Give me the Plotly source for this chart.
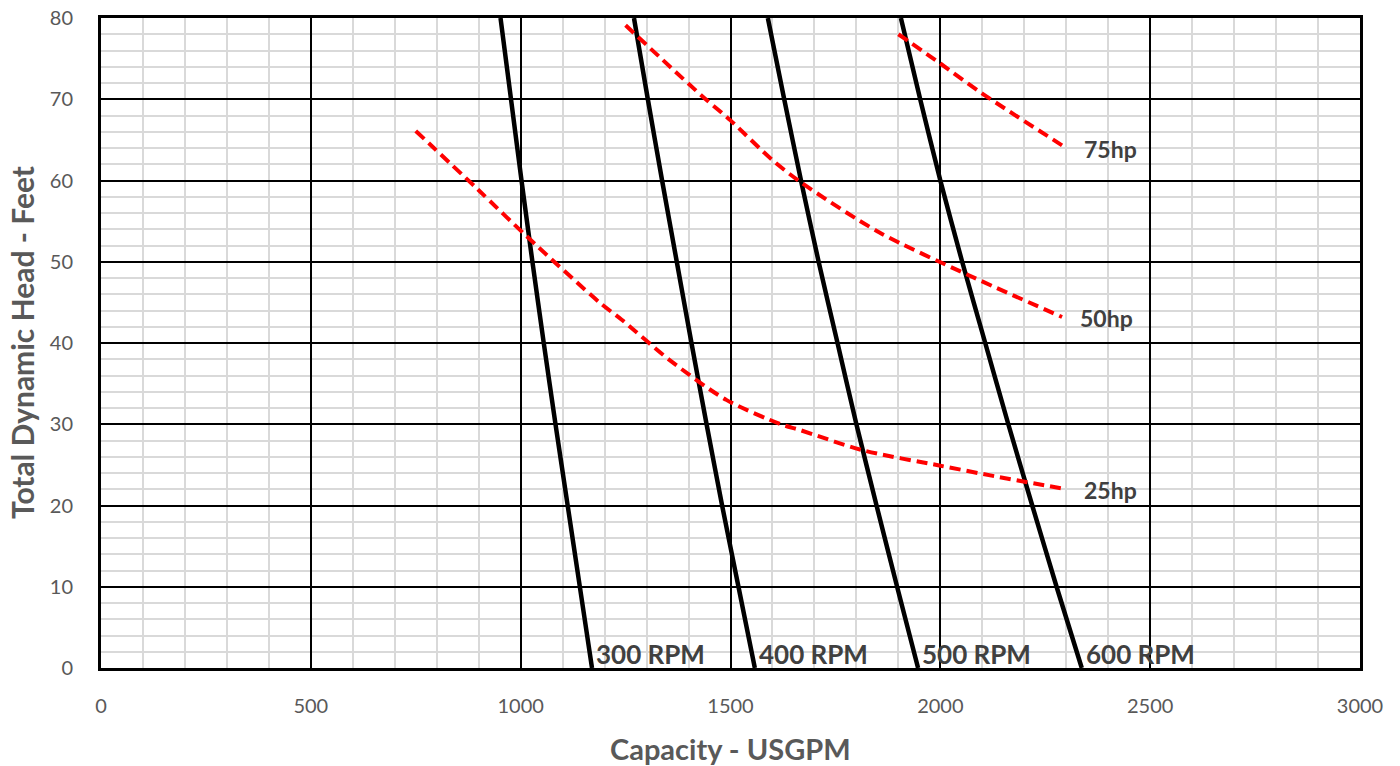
import plotly.graph_objects as go

# ---- data ----
heads = [80, 70, 60, 50, 40, 30, 20, 10, 0]
rpm_labels = ["300 RPM", "400 RPM", "500 RPM", "600 RPM"]
rpm_300 = [952, 977, 1002, 1028, 1055, 1083, 1112, 1141, 1170]
rpm_400 = [1270, 1303, 1337, 1372, 1407, 1443, 1480, 1519, 1558]
rpm_500 = [1589, 1628, 1668, 1710, 1755, 1800, 1848, 1897, 1947]
rpm_600 = [1906, 1952, 2000, 2052, 2107, 2162, 2219, 2277, 2337]

hp_labels = ["25hp", "50hp", "75hp"]
hp25_x = [750, 900, 1015, 1190, 1240, 1355, 1490, 1620, 1665, 1815, 2000, 2140, 2300]
hp25_y = [66.1, 58.8, 53.1, 44.9, 42.9, 37.9, 33.0, 30.0, 29.3, 26.8, 24.9, 23.5, 22.0]
hp50_x = [1250, 1430, 1500, 1600, 1670, 1855, 2065, 2290]
hp50_y = [79.1, 70.5, 67.4, 62.5, 59.7, 53.6, 48.4, 43.2]
hp75_x = [1900, 2000, 2100, 2300]
hp75_y = [78.0, 74.4, 70.7, 64.0]

x_ticks = [0, 500, 1000, 1500, 2000, 2500, 3000]
y_ticks = [0, 10, 20, 30, 40, 50, 60, 70, 80]

FONT = "Lato"
TXT = "#404040"
TICK = "#595959"

fig = go.Figure()

for name, xs in zip(rpm_labels, [rpm_300, rpm_400, rpm_500, rpm_600]):
    fig.add_trace(go.Scatter(x=xs, y=heads, mode="lines", name=name,
                             line=dict(color="black", width=4.5, shape="spline", smoothing=0.6),
                             showlegend=False, hoverinfo="skip"))
    fig.add_annotation(x=xs[-1], y=heads[-1], text="<b>" + name + "</b>", showarrow=False,
                       xanchor="left", yanchor="bottom", xshift=2, yshift=-4,
                       font=dict(family=FONT, size=26, color=TXT))

for name, xs, ys in zip(hp_labels, [hp25_x, hp50_x, hp75_x], [hp25_y, hp50_y, hp75_y]):
    fig.add_trace(go.Scatter(x=xs, y=ys, mode="lines", name=name,
                             line=dict(color="#ff0000", width=4, dash="11px,6px",
                                       shape="spline", smoothing=0.8),
                             showlegend=False, hoverinfo="skip"))
    fig.add_annotation(x=xs[-1], y=ys[-1], text="<b>" + name + "</b>", showarrow=False,
                       xanchor="left", yanchor="middle", xshift=16, yshift=-1,
                       font=dict(family=FONT, size=23, color=TXT))

fig.update_xaxes(range=[0, 3000], tickvals=x_ticks, ticktext=[str(v) for v in x_ticks],
                 showgrid=True, gridcolor="black", gridwidth=2,
                 minor=dict(dtick=100, showgrid=True, gridcolor="#d9d9d9", gridwidth=2),
                 showline=True, linecolor="black", linewidth=3, mirror=True,
                 ticks="", ticklabelstandoff=18, zeroline=False, automargin=False,
                 tickfont=dict(family=FONT, size=20, color=TICK), fixedrange=True)
fig.update_yaxes(range=[0, 80], tickvals=y_ticks, ticktext=[str(v) for v in y_ticks],
                 showgrid=True, gridcolor="black", gridwidth=2,
                 minor=dict(dtick=2, showgrid=True, gridcolor="#d9d9d9", gridwidth=2),
                 showline=True, linecolor="black", linewidth=3, mirror=True,
                 ticks="", ticklabelstandoff=21, zeroline=False, automargin=False,
                 tickfont=dict(family=FONT, size=20, color=TICK), fixedrange=True)

fig.add_annotation(xref="paper", yref="paper", x=0.5, y=0, yshift=-80, yanchor="middle",
                   text="<b>Capacity - USGPM</b>", showarrow=False,
                   font=dict(family=FONT, size=29, color=TICK))
fig.add_annotation(xref="paper", yref="paper", x=0, y=0.5, xshift=-79, xanchor="center",
                   text="<b>Total Dynamic Head - Feet</b>", showarrow=False, textangle=-90,
                   font=dict(family=FONT, size=30, color=TICK))

fig.update_layout(width=1400, height=766, margin=dict(l=101, r=40, t=18, b=98),
                  plot_bgcolor="white", paper_bgcolor="white",
                  font=dict(family=FONT))

fig.write_html("out.html", config={"displayModeBar": False},
               post_script="document.body.style.margin='0';document.body.style.overflow='hidden';")
